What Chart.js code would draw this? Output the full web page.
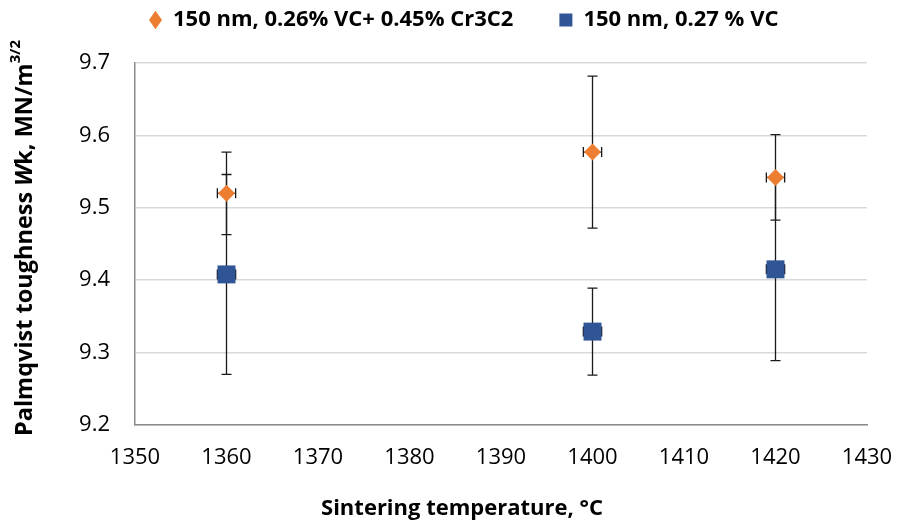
<!DOCTYPE html>
<html>
<head>
<meta charset="utf-8">
<script src="https://cdn.jsdelivr.net/npm/chart.js@4"></script>
<style>
  html, body { margin: 0; padding: 0; background: #fff; }
  #wrap { width: 898px; height: 526px; }
</style>
</head>
<body>
<div id="wrap"><canvas id="chart"></canvas></div>
<script>
// sintering temperatures (°C) and their error
const temps = [1360, 1400, 1420];
const tempErr = [1, 1, 1];

// 150 nm, 0.26% VC + 0.45% Cr3C2
const toughVcCr = [9.52, 9.577, 9.542];
const errVcCr = [0.057, 0.105, 0.059];

// 150 nm, 0.27 % VC
const toughVc = [9.408, 9.329, 9.415];
const errVc = [0.138, 0.06, 0.126];

const yTicks = [9.2, 9.3, 9.4, 9.5, 9.6, 9.7];
const xTicks = [1350, 1360, 1370, 1380, 1390, 1400, 1410, 1420, 1430];

const FONT = '"Open Sans", sans-serif';

const toPoints = (xs, ys) => xs.map((x, i) => ({ x: x, y: ys[i] }));

// error bars, drawn behind the markers
const errorBars = {
  id: 'errorBars',
  beforeDatasetsDraw(chart) {
    const ctx = chart.ctx;
    const xs = chart.scales.x, ys = chart.scales.y;
    ctx.save();
    ctx.strokeStyle = '#1a1a1a';
    ctx.lineWidth = 1.3;
    chart.data.datasets.forEach(ds => {
      ds.data.forEach((p, i) => {
        const px = xs.getPixelForValue(p.x);
        const py = ys.getPixelForValue(p.y);
        const top = ys.getPixelForValue(p.y + ds.errY[i]);
        const bot = ys.getPixelForValue(p.y - ds.errY[i]);
        const left = xs.getPixelForValue(p.x - ds.errX[i]);
        const right = xs.getPixelForValue(p.x + ds.errX[i]);
        const c = 5;
        ctx.beginPath();
        ctx.moveTo(px, top); ctx.lineTo(px, bot);
        ctx.moveTo(px - c, top); ctx.lineTo(px + c, top);
        ctx.moveTo(px - c, bot); ctx.lineTo(px + c, bot);
        ctx.moveTo(left, py); ctx.lineTo(right, py);
        ctx.moveTo(left, py - c); ctx.lineTo(left, py + c);
        ctx.moveTo(right, py - c); ctx.lineTo(right, py + c);
        ctx.stroke();
      });
    });
    ctx.restore();
  }
};

// axis titles (the y one has a superscript)
const axisTitles = {
  id: 'axisTitles',
  afterDraw(chart) {
    const ctx = chart.ctx;
    ctx.save();
    ctx.fillStyle = '#000';
    ctx.textBaseline = 'middle';

    ctx.font = 'bold 22px ' + FONT;
    ctx.textAlign = 'center';
    ctx.fillText('Sintering temperature, °C', 462, 509);

    const parts = [
      { t: 'Palmqvist toughness ', f: 'bold 23.5px ' + FONT, dy: 0 },
      { t: 'W', f: 'italic bold 23.5px ' + FONT, dy: 0 },
      { t: 'k, MN/m', f: 'bold 23.5px ' + FONT, dy: 0 },
      { t: '3/2', f: 'bold 15px ' + FONT, dy: -9 }
    ];
    let total = 0;
    parts.forEach(p => { ctx.font = p.f; p.w = ctx.measureText(p.t).width; total += p.w; });
    ctx.translate(25, 238);
    ctx.rotate(-Math.PI / 2);
    ctx.textAlign = 'left';
    let x = -total / 2;
    parts.forEach(p => {
      ctx.font = p.f;
      ctx.fillText(p.t, x, p.dy);
      x += p.w;
    });
    ctx.restore();
  }
};

// move the legend to where the original has it
const legendPlace = {
  id: 'legendPlace',
  beforeDraw(chart) {
    const lg = chart.legend;
    lg.top = -37;
    lg.left = 103;
    lg.right = 898;
  }
};

new Chart(document.getElementById('chart'), {
  type: 'scatter',
  data: {
    datasets: [{
      label: '150 nm, 0.26% VC+ 0.45% Cr3C2',
      data: toPoints(temps, toughVcCr),
      errY: errVcCr,
      errX: tempErr,
      pointStyle: 'rectRot',
      pointRadius: 8.5,
      pointHoverRadius: 8.5,
      backgroundColor: '#ED7D31',
      borderColor: '#ED7D31',
      borderWidth: 0
    }, {
      label: '150 nm, 0.27 % VC',
      data: toPoints(temps, toughVc),
      errY: errVc,
      errX: tempErr,
      pointStyle: 'rect',
      pointRadius: 12.7,
      pointHoverRadius: 12.7,
      backgroundColor: '#2F5597',
      borderColor: '#2F5597',
      borderWidth: 0
    }]
  },
  options: {
    responsive: true,
    maintainAspectRatio: false,
    animation: false,
    layout: { padding: { left: 0, right: 31, top: 0, bottom: 0 } },
    plugins: {
      tooltip: { enabled: false },
      legend: {
        position: 'top',
        align: 'start',
        maxHeight: 63,
        labels: {
          usePointStyle: true,
          boxHeight: 13,
          pointStyleWidth: 13,
          padding: 46,
          color: '#000',
          font: { family: FONT, size: 22, weight: 'bold' }
        }
      }
    },
    scales: {
      x: {
        type: 'linear',
        min: 1350,
        max: 1430,
        afterFit: s => { s.height = 101; s.paddingLeft = 0; s.paddingRight = 0; },
        afterBuildTicks: s => { s.ticks = xTicks.map(v => ({ value: v })); },
        grid: { display: false, drawTicks: false },
        border: { display: true, color: '#8c8c8c', width: 1.5 },
        ticks: {
          padding: 20,
          color: '#000',
          font: { family: FONT, size: 22 },
          callback: v => String(v)
        }
      },
      y: {
        min: 9.2,
        max: 9.7,
        afterFit: s => { s.width = 135; },
        afterBuildTicks: s => { s.ticks = yTicks.map(v => ({ value: v })); },
        grid: { color: '#d9d9d9', lineWidth: 1.5, drawTicks: false },
        border: { display: true, color: '#8c8c8c', width: 1.5 },
        ticks: {
          padding: 25,
          color: '#000',
          font: { family: FONT, size: 22 },
          callback: v => v.toFixed(1)
        }
      }
    }
  },
  plugins: [errorBars, axisTitles, legendPlace]
});
</script>
</body>
</html>
